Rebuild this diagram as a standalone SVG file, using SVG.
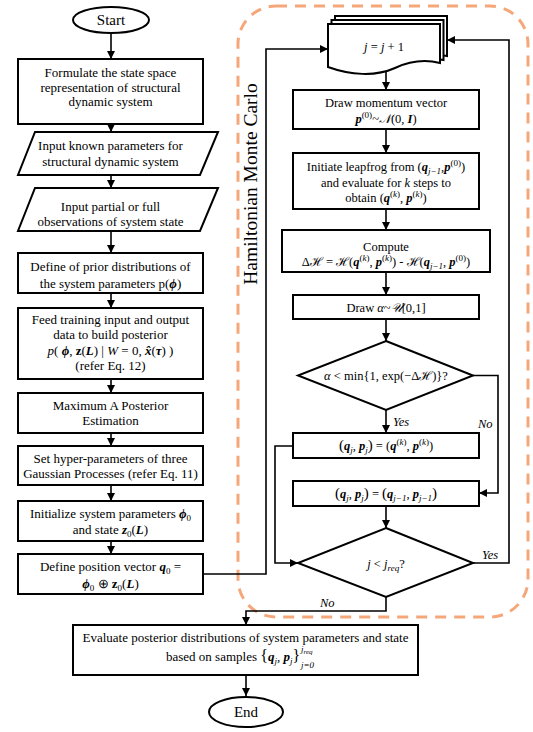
<svg xmlns="http://www.w3.org/2000/svg" width="533" height="732" viewBox="0 0 533 732">
<defs>
<marker id="ah" markerUnits="userSpaceOnUse" markerWidth="9" markerHeight="8" refX="8" refY="4" orient="auto">
<path d="M0,0 L8,4 L0,8 z" fill="#000"/>
</marker>
<style>
.n{fill:#fff;stroke:#000;stroke-width:2}
.c{fill:none;stroke:#000;stroke-width:1.6;marker-end:url(#ah)}
.l{fill:none;stroke:#000;stroke-width:1.6}
text{font-family:"Liberation Serif","Times New Roman",serif;fill:#000}
.t{font-size:13px;text-anchor:middle}
.r{font-size:12.5px;text-anchor:middle}
.bi{font-weight:bold;font-style:italic}
.b{font-weight:bold}
.i{font-style:italic}
.s{font-size:9px}
</style>
</defs>
<rect x="238" y="6" width="290" height="611" rx="38" fill="none" stroke="#F6A77A" stroke-width="3" stroke-dasharray="11,8"/>
<text font-size="19.5" text-anchor="middle" transform="translate(257,184) rotate(-90)">Hamiltonian Monte Carlo</text>
<g id="connectors">
<path class="c" d="M111,33 V59"/>
<path class="c" d="M111,124 V132"/>
<path class="c" d="M111,175 V188"/>
<path class="c" d="M111,231 V253"/>
<path class="c" d="M111,293 V308"/>
<path class="c" d="M111,379 V393"/>
<path class="c" d="M111,433 V446"/>
<path class="c" d="M111,485 V501"/>
<path class="c" d="M111,541 V554"/>
<path class="c" d="M203,574 H266 V49 H328"/>
<path class="c" d="M386,72 V90"/>
<path class="c" d="M386,129 V153"/>
<path class="c" d="M386,209 V230"/>
<path class="c" d="M386,272 V295"/>
<path class="c" d="M386,319 V341"/>
<path class="c" d="M386,410 V433"/>
<path class="c" d="M473,375.5 H498 V493 H479"/>
<path class="c" d="M293,446 H275 V563 H298"/>
<path class="c" d="M386,506 V528"/>
<path class="c" d="M473,563 H509 V40 H447"/>
<path class="c" d="M386,597 V611 H246 V625"/>
<path class="c" d="M246,675 V696"/>
<text class="i" font-size="12.5" x="393" y="426">Yes</text>
<text class="i" font-size="12.5" x="478" y="428">No</text>
<text class="i" font-size="12.5" x="482" y="559">Yes</text>
<text class="i" font-size="12.5" x="320" y="607">No</text>
</g>
<g id="start"><ellipse class="n" cx="111" cy="20" rx="38" ry="13"/><text font-size="15" text-anchor="middle" x="111" y="25">Start</text></g>
<g id="formulate"><rect class="n" x="18" y="59" width="185" height="65"/>
<text class="t" x="110.5" y="77">Formulate the state space</text>
<text class="t" x="110.5" y="92">representation of structural</text>
<text class="t" x="110.5" y="106">dynamic system</text></g>
<g id="known"><polygon class="n" points="35,132 218,132 200,175 18,175"/>
<text class="t" x="110.5" y="150">Input known parameters for</text>
<text class="t" x="110.5" y="166">structural dynamic system</text></g>
<g id="observ"><polygon class="n" points="35,188 218,188 200,231 18,231"/>
<text class="t" x="110.5" y="211">Input partial or full</text>
<text class="t" x="110.5" y="226">observations of system state</text></g>
<g id="prior"><rect class="n" x="18" y="253" width="185" height="40"/>
<text class="t" x="110.5" y="271">Define of prior distributions of</text>
<text class="t" x="110.5" y="288">the system parameters p(<tspan class="bi">ϕ</tspan>)</text></g>
<g id="feed"><rect class="n" x="18" y="308" width="185" height="71"/>
<text class="t" x="110.5" y="324">Feed training input and output</text>
<text class="t" x="110.5" y="339">data to build posterior</text>
<text class="t" x="110.5" y="355"><tspan class="i">p</tspan>( <tspan class="bi">ϕ</tspan>, <tspan class="b">z</tspan>(<tspan class="bi">L</tspan>) | <tspan class="i">W</tspan> = 0, <tspan class="bi">x̂</tspan>(<tspan class="bi">τ</tspan>) )</text>
<text class="t" x="110.5" y="370">(refer Eq. 12)</text></g>
<g id="map"><rect class="n" x="18" y="393" width="185" height="40"/>
<text class="t" x="110.5" y="410">Maximum A Posterior</text>
<text class="t" x="110.5" y="425">Estimation</text></g>
<g id="hyper"><rect class="n" x="18" y="446" width="185" height="39"/>
<text class="t" x="110.5" y="463">Set hyper-parameters of three</text>
<text class="t" x="110.5" y="478">Gaussian Processes (refer Eq. 11)</text></g>
<g id="init"><rect class="n" x="18" y="501" width="185" height="40"/>
<text class="t" x="110.5" y="518">Initialize system parameters <tspan class="bi">ϕ</tspan><tspan class="s" dy="3">0</tspan></text>
<text class="t" x="110.5" y="534">and state <tspan class="bi">z</tspan><tspan class="s" dy="3">0</tspan><tspan dy="-3">(</tspan><tspan class="bi">L</tspan>)</text></g>
<g id="position"><rect class="n" x="18" y="554" width="185" height="40"/>
<text class="t" x="110.5" y="571">Define position vector <tspan class="bi">q</tspan><tspan class="s" dy="3">0</tspan><tspan dy="-3"> =</tspan></text>
<text class="t" x="110.5" y="588"><tspan class="bi">ϕ</tspan><tspan class="s" dy="3">0</tspan><tspan dy="-3"> ⊕ </tspan><tspan class="b">z</tspan><tspan class="s" dy="3">0</tspan><tspan dy="-3">(</tspan><tspan class="bi">L</tspan>)</text></g>
<g id="jinc">
<path class="n" d="M335,16 H447 V56 C436,54 430,55 425,57 L335,57 Z"/>
<path class="n" d="M331.5,20 H443.5 V60 C432,58 426,59 420,61 L331.5,61 Z"/>
<path class="n" d="M328,24 H440 V63 C424,59 410,61 395,68 C375,77 350,75 328,67 Z"/>
<text class="r" x="384" y="51"><tspan class="i">j</tspan> = <tspan class="i">j</tspan> + 1</text></g>
<g id="momentum"><rect class="n" x="293" y="90" width="186" height="39"/>
<text class="r" x="386" y="107">Draw momentum vector</text>
<text class="r" x="386" y="123"><tspan class="bi">p</tspan><tspan class="s" dy="-5">(0)</tspan><tspan dy="5">~</tspan><tspan class="i">𝒩</tspan>(0, <tspan class="bi">I</tspan>)</text></g>
<g id="leapfrog"><rect class="n" x="293" y="153" width="186" height="56"/>
<text class="r" x="386" y="171">Initiate leapfrog from (<tspan class="bi">q</tspan><tspan class="s i" dy="3">j−1</tspan><tspan dy="-3">,</tspan><tspan class="bi">p</tspan><tspan class="s" dy="-5">(0)</tspan><tspan dy="5">)</tspan></text>
<text class="r" x="386" y="187">and evaluate for <tspan class="i">k</tspan> steps to</text>
<text class="r" x="386" y="202">obtain (<tspan class="bi">q</tspan><tspan class="s" dy="-5">(<tspan class="i">k</tspan>)</tspan><tspan dy="5">, </tspan><tspan class="bi">p</tspan><tspan class="s" dy="-5">(<tspan class="i">k</tspan>)</tspan><tspan dy="5">)</tspan></text></g>
<g id="compute"><rect class="n" x="282" y="230" width="208" height="42"/>
<text class="r" x="386" y="251">Compute</text>
<text class="r" x="386" y="266">Δℋ = ℋ(<tspan class="bi">q</tspan><tspan class="s" dy="-5">(<tspan class="i">k</tspan>)</tspan><tspan dy="5">, </tspan><tspan class="bi">p</tspan><tspan class="s" dy="-5">(<tspan class="i">k</tspan>)</tspan><tspan dy="5">) - ℋ(</tspan><tspan class="bi">q</tspan><tspan class="s i" dy="3">j−1</tspan><tspan dy="-3">, </tspan><tspan class="bi">p</tspan><tspan class="s" dy="-5">(0)</tspan><tspan dy="5">)</tspan></text></g>
<g id="alpha"><rect class="n" x="293" y="295" width="186" height="24"/>
<text class="r" x="386" y="312">Draw <tspan class="i">α</tspan>~<tspan class="i">𝒰</tspan>[0,1]</text></g>
<g id="accept"><polygon class="n" points="386,341 473,375.5 386,410 298,375.5"/>
<text class="r" x="386" y="380"><tspan class="i">α</tspan> &lt; min{1, exp(−Δℋ)}?</text></g>
<g id="update"><rect class="n" x="293" y="433" width="186" height="25"/>
<text class="r" x="386" y="450"><tspan font-size="15">(</tspan><tspan class="bi">q</tspan><tspan class="s i" dy="3">j</tspan><tspan dy="-3">, </tspan><tspan class="bi">p</tspan><tspan class="s i" dy="3">j</tspan><tspan dy="-3" font-size="15">)</tspan> = (<tspan class="bi">q</tspan><tspan class="s" dy="-5">(<tspan class="i">k</tspan>)</tspan><tspan dy="5">, </tspan><tspan class="bi">p</tspan><tspan class="s" dy="-5">(<tspan class="i">k</tspan>)</tspan><tspan dy="5">)</tspan></text></g>
<g id="keep"><rect class="n" x="293" y="481" width="186" height="25"/>
<text class="r" x="386" y="498"><tspan font-size="15">(</tspan><tspan class="bi">q</tspan><tspan class="s i" dy="3">j</tspan><tspan dy="-3">, </tspan><tspan class="bi">p</tspan><tspan class="s i" dy="3">j</tspan><tspan dy="-3" font-size="15">)</tspan> = <tspan font-size="15">(</tspan><tspan class="bi">q</tspan><tspan class="s i" dy="3">j−1</tspan><tspan dy="-3">, </tspan><tspan class="bi">p</tspan><tspan class="s i" dy="3">j−1</tspan><tspan dy="-3" font-size="15">)</tspan></text></g>
<g id="check"><polygon class="n" points="386,528 473,563 386,597 298,563"/>
<text class="r" x="386" y="568"><tspan class="i">j</tspan> &lt; <tspan class="i">j</tspan><tspan class="s i" dy="3">req</tspan><tspan dy="-3">?</tspan></text></g>
<g id="evaluate"><rect class="n" x="73" y="625" width="345" height="50"/>
<text class="t" x="245.5" y="642">Evaluate posterior distributions of  system parameters and state</text>
<text font-size="13" x="166" y="661">based on samples <tspan font-size="16">{</tspan><tspan class="bi">q</tspan><tspan class="s i" dy="3">j</tspan><tspan dy="-3">, </tspan><tspan class="bi">p</tspan><tspan class="s i" dy="3">j</tspan><tspan dy="-3" font-size="16">}</tspan></text>
<text class="s i" x="301" y="652">j<tspan font-size="7" dy="2">req</tspan></text>
<text class="s i" x="301" y="668">j=0</text></g>
<g id="end"><ellipse class="n" cx="246" cy="712" rx="37" ry="15"/><text font-size="15" text-anchor="middle" x="246" y="717">End</text></g>
</svg>
